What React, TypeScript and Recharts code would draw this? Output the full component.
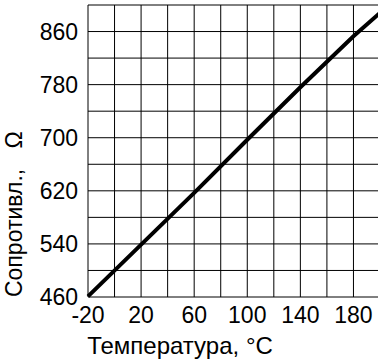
import { LineChart, Line, XAxis, YAxis, CartesianGrid } from 'recharts';

// readings (temperature °C -> resistance Ω)
const temps = [-20, 20, 60, 100, 140, 180, 200];
const resist = [461, 539, 617, 697, 776, 853, 888];

const xTicks = [-20, 0, 20, 40, 60, 80, 100, 120, 140, 160, 180, 200];
const xLabels = [-20, 20, 60, 100, 140, 180];
const yTicks = [460, 500, 540, 580, 620, 660, 700, 740, 780, 820, 860, 900];
const yLabels = [460, 540, 620, 700, 780, 860];

const xTitle = 'Температура, °C';
const yTitle = 'Сопротивл.,';
const yUnit = 'Ω';

const FONT = '"Liberation Sans", Arial, sans-serif';

const data = temps.map((t, i) => ({ t, r: resist[i] }));

const XTitle = () => (
  <text x={180} y={354} textAnchor="middle" fontSize={24} fontFamily={FONT} fill="#000">
    {xTitle}
  </text>
);

const YTitle = () => (
  <g fontSize={23} fontFamily={FONT} fill="#000">
    <text x={22} y={297} textAnchor="start" transform="rotate(-90 22 297)">
      {yTitle}
    </text>
    <text x={22} y={140} textAnchor="middle" transform="rotate(-90 22 140)">
      {yUnit}
    </text>
  </g>
);

export default function App() {
  return (
    <div style={{ position: 'absolute', left: 0, top: 0, width: 378, height: 364, overflow: 'hidden', background: '#fff' }}>
      <LineChart width={400} height={364} data={data} margin={{ top: 5, right: 20, left: 0, bottom: 0 }}>
        <CartesianGrid stroke="#000" strokeWidth={1} />
        <XAxis
          dataKey="t"
          type="number"
          domain={[-20, 200]}
          ticks={xTicks}
          tickFormatter={(v: number) => (xLabels.includes(v) ? String(v) : '')}
          height={67}
          tickLine={false}
          axisLine={false}
          tickMargin={4}
          tick={{ fontSize: 23, fill: '#000', fontFamily: FONT }}
          label={{ content: <XTitle /> }}
        />
        <YAxis
          dataKey="r"
          type="number"
          domain={[460, 900]}
          ticks={yTicks}
          tickFormatter={(v: number) => (yLabels.includes(v) ? String(v) : '')}
          width={88}
          tickLine={false}
          axisLine={false}
          tickMargin={4}
          tick={{ fontSize: 23, fill: '#000', fontFamily: FONT }}
          label={{ content: <YTitle /> }}
        />
        <Line
          type="linear"
          dataKey="r"
          stroke="#000"
          strokeWidth={4}
          dot={false}
          isAnimationActive={false}
        />
      </LineChart>
    </div>
  );
}
